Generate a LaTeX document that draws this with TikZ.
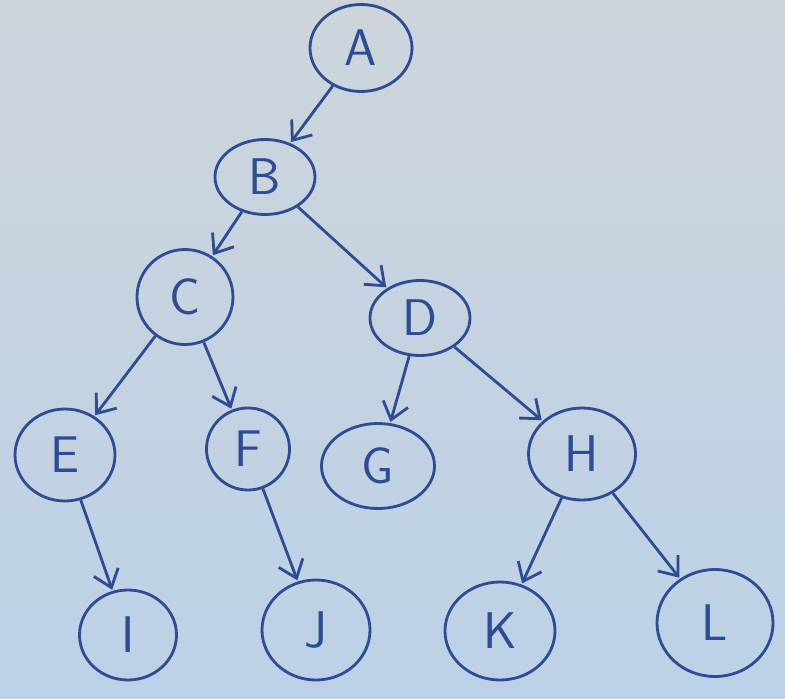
\documentclass[tikz,border=0pt]{standalone}
\usetikzlibrary{shapes.geometric,arrows.meta}
\definecolor{board}{HTML}{C6D4E1}
\definecolor{boardtop}{HTML}{CDD5DB}
\definecolor{boardbot}{HTML}{BCD1E8}
\definecolor{ink}{HTML}{2D4C92}
\tikzset{
  vtx/.style={ellipse, draw=ink, line width=2.4pt, inner sep=0pt, text=ink,
    font=\sffamily\fontsize{44}{44}\selectfont},
  edge/.style={draw=ink, line width=2.4pt, -{Straight Barb[length=14pt,width=22pt,line width=2.4pt]}, shorten >=1pt}
}
\begin{document}
\begin{tikzpicture}[x=0.03cm,y=-0.03cm]
\shade[top color=boardtop,bottom color=boardbot] (0,0) rectangle (785,698);
\useasboundingbox (0,0) rectangle (785,698);
\node[vtx, minimum width=102*0.03cm, minimum height=87*0.03cm] (A) at (361,48) {A};
\node[vtx, minimum width=100*0.03cm, minimum height=75*0.03cm] (B) at (265,177) {B};
\node[vtx, minimum width=96*0.03cm, minimum height=95*0.03cm] (C) at (185,297) {C};
\node[vtx, minimum width=100*0.03cm, minimum height=75*0.03cm] (D) at (420,318) {D};
\node[vtx, minimum width=100*0.03cm, minimum height=92*0.03cm] (E) at (65,455) {E};
\node[vtx, minimum width=83*0.03cm, minimum height=82*0.03cm] (F) at (248,449) {F};
\node[vtx, minimum width=113*0.03cm, minimum height=85*0.03cm] (G) at (378,466) {G};
\node[vtx, minimum width=107*0.03cm, minimum height=92*0.03cm] (H) at (582,454) {H};
\node[vtx, minimum width=97*0.03cm, minimum height=90*0.03cm] (I) at (128,635) {I};
\node[vtx, minimum width=108*0.03cm, minimum height=100*0.03cm] (J) at (316,630) {J};
\node[vtx, minimum width=110*0.03cm, minimum height=98*0.03cm] (K) at (500,631) {K};
\node[vtx, minimum width=116*0.03cm, minimum height=107*0.03cm] (L) at (715,623) {L};
\draw[edge] (A) -- (B);
\draw[edge] (B) -- (C);
\draw[edge] (B) -- (D);
\draw[edge] (C) -- (E);
\draw[edge] (C) -- (F);
\draw[edge] (D) -- (G);
\draw[edge] (D) -- (H);
\draw[edge] (E) -- (I);
\draw[edge] (F) -- (J);
\draw[edge] (H) -- (K);
\draw[edge] (H) -- (L);
\end{tikzpicture}
\end{document}
